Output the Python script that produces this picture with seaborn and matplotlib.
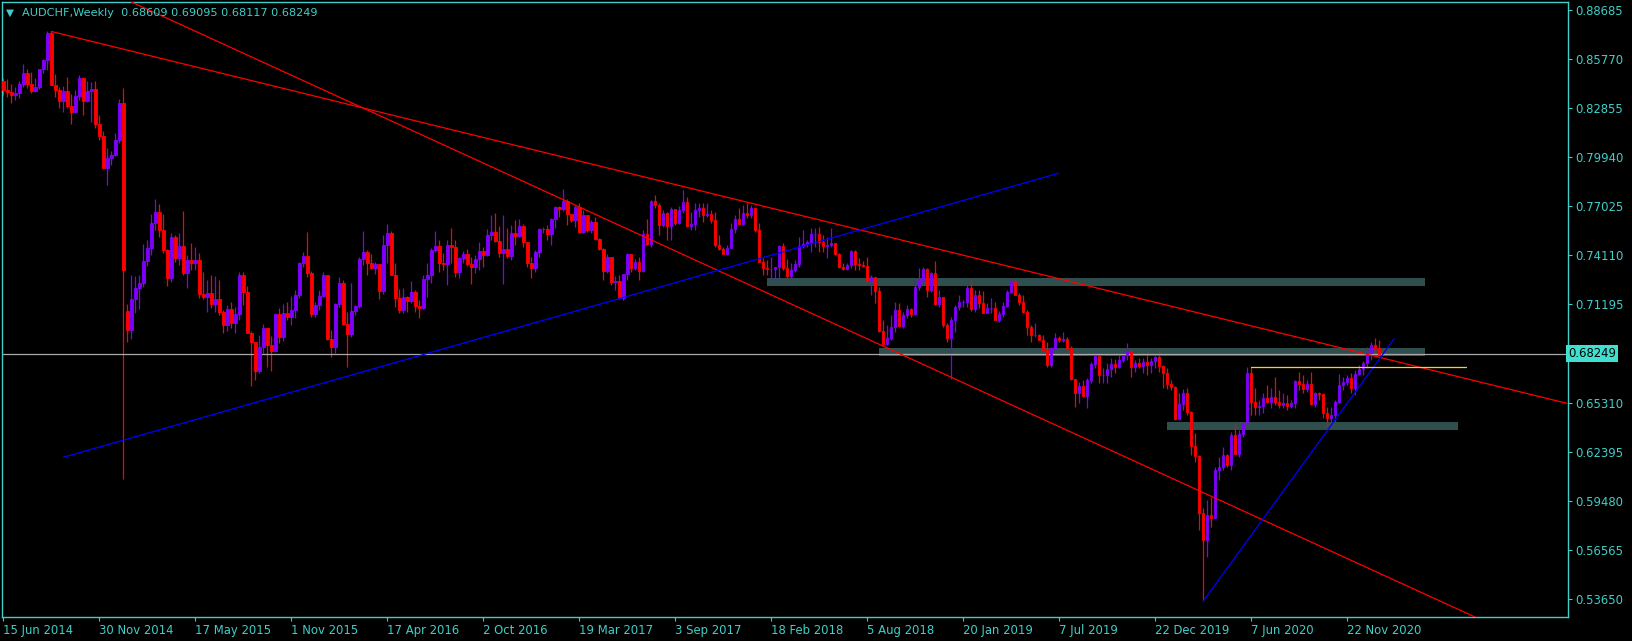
import matplotlib
matplotlib.use("Agg")
import matplotlib.pyplot as plt
import matplotlib.transforms as mtransforms
from matplotlib.patches import Rectangle
import numpy as np
import seaborn as sns

sns.set_style("dark", {"axes.facecolor": "black", "figure.facecolor": "black"})
plt.rcParams['font.family'] = ['DejaVu Sans']

# AUDCHF weekly candles, first week = 15 Jun 2014
symbol = "AUDCHF,Weekly"
first_open = 0.8449
gap_opens = {31: 0.7081}   # weekly gap after the SNB week

closes = [
    0.8396, 0.8384, 0.8366, 0.8378, 0.8431, 0.8497, 0.8431, 0.8390, 0.8413, 0.8515,
    0.8574, 0.8729, 0.8425, 0.8396, 0.8330, 0.8390, 0.8300, 0.8265, 0.8360, 0.8467,
    0.8330, 0.8390, 0.8401, 0.8193, 0.8122, 0.7931, 0.7991, 0.8009, 0.8098, 0.8318,
    0.7325, 0.6968, 0.7152, 0.7217, 0.7247, 0.7378, 0.7455, 0.7604, 0.7670, 0.7563,
    0.7444, 0.7277, 0.7521, 0.7396, 0.7467, 0.7307, 0.7384, 0.7366, 0.7384, 0.7182,
    0.7164, 0.7188, 0.7122, 0.7152, 0.7075, 0.6997, 0.7092, 0.7009, 0.7063, 0.7295,
    0.7194, 0.6950, 0.6896, 0.6724, 0.6866, 0.6979, 0.6878, 0.6843, 0.7063, 0.6926,
    0.7069, 0.7045, 0.7087, 0.7176, 0.7366, 0.7408, 0.7307, 0.7063, 0.7116, 0.7170,
    0.7295, 0.6914, 0.6866, 0.7122, 0.7247, 0.7003, 0.6944, 0.7081, 0.7110, 0.7390,
    0.7432, 0.7366, 0.7336, 0.7360, 0.7200, 0.7473, 0.7545, 0.7295, 0.7158, 0.7087,
    0.7164, 0.7140, 0.7194, 0.7110, 0.7098, 0.7271, 0.7295, 0.7444, 0.7467, 0.7366,
    0.7360, 0.7473, 0.7461, 0.7313, 0.7396, 0.7420, 0.7360, 0.7342, 0.7390, 0.7438,
    0.7414, 0.7533, 0.7551, 0.7497, 0.7426, 0.7449, 0.7408, 0.7545, 0.7527, 0.7586,
    0.7491, 0.7366, 0.7336, 0.7432, 0.7568, 0.7568, 0.7539, 0.7628, 0.7699, 0.7687,
    0.7735, 0.7658, 0.7622, 0.7699, 0.7551, 0.7652, 0.7563, 0.7610, 0.7509, 0.7449,
    0.7319, 0.7402, 0.7253, 0.7259, 0.7158, 0.7301, 0.7420, 0.7336, 0.7372, 0.7319,
    0.7539, 0.7479, 0.7735, 0.7711, 0.7592, 0.7664, 0.7586, 0.7687, 0.7604, 0.7682,
    0.7729, 0.7586, 0.7598, 0.7682, 0.7693, 0.7652, 0.7658, 0.7622, 0.7473, 0.7449,
    0.7420, 0.7455, 0.7568, 0.7628, 0.7598, 0.7664, 0.7652, 0.7693, 0.7563, 0.7372,
    0.7336, 0.7330, 0.7330, 0.7342, 0.7467, 0.7336, 0.7289, 0.7325, 0.7360, 0.7467,
    0.7479, 0.7491, 0.7539, 0.7539, 0.7491, 0.7467, 0.7473, 0.7485, 0.7420, 0.7342,
    0.7330, 0.7354, 0.7438, 0.7360, 0.7354, 0.7348, 0.7259, 0.7283, 0.7200, 0.6962,
    0.6884, 0.6920, 0.6985, 0.7087, 0.6991, 0.7057, 0.7092, 0.7063, 0.7223, 0.7265,
    0.7330, 0.7206, 0.7307, 0.7122, 0.7164, 0.6997, 0.6920, 0.7027, 0.7104, 0.7134,
    0.7134, 0.7217, 0.7092, 0.7176, 0.7128, 0.7069, 0.7098, 0.7098, 0.7027, 0.7063,
    0.7110, 0.7194, 0.7253, 0.7176, 0.7134, 0.7075, 0.6985, 0.6938, 0.6938, 0.6908,
    0.6849, 0.6759, 0.6860, 0.6920, 0.6908, 0.6914, 0.6860, 0.6676, 0.6593, 0.6634,
    0.6575, 0.6670, 0.6765, 0.6813, 0.6700, 0.6700, 0.6735, 0.6765, 0.6747, 0.6789,
    0.6819, 0.6843, 0.6747, 0.6771, 0.6753, 0.6777, 0.6759, 0.6783, 0.6807, 0.6753,
    0.6712, 0.6646, 0.6628, 0.6438, 0.6527, 0.6593, 0.6480, 0.6277, 0.6218, 0.5879,
    0.5718, 0.5867, 0.5849, 0.6135, 0.6152, 0.6224, 0.6164, 0.6343, 0.6230, 0.6349,
    0.6414, 0.6712, 0.6539, 0.6509, 0.6515, 0.6563, 0.6539, 0.6569, 0.6539, 0.6521,
    0.6533, 0.6515, 0.6533, 0.6664, 0.6646, 0.6616, 0.6646, 0.6527, 0.6593, 0.6587,
    0.6474, 0.6444, 0.6462, 0.6539, 0.6640, 0.6658, 0.6682, 0.6622, 0.6706, 0.6735,
    0.6771, 0.6831, 0.6878, 0.6861, 0.68249,
]
highs = [
    0.8467, 0.8461, 0.8431, 0.8413, 0.8449, 0.8550, 0.8515, 0.8503, 0.8467, 0.8520,
    0.8580, 0.8741, 0.8741, 0.8491, 0.8413, 0.8419, 0.8473, 0.8372, 0.8396, 0.8485,
    0.8473, 0.8449, 0.8443, 0.8449, 0.8247, 0.8152, 0.8050, 0.8033, 0.8140, 0.8342,
    0.8407, 0.7122, 0.7295, 0.7289, 0.7295, 0.7479, 0.7503, 0.7658, 0.7747, 0.7717,
    0.7658, 0.7449, 0.7545, 0.7533, 0.7545, 0.7676, 0.7414, 0.7485, 0.7461, 0.7426,
    0.7313, 0.7265, 0.7295, 0.7289, 0.7265, 0.7087, 0.7116, 0.7134, 0.7104, 0.7313,
    0.7313, 0.7229, 0.6962, 0.6896, 0.6938, 0.7003, 0.6979, 0.6932, 0.7069, 0.7098,
    0.7122, 0.7134, 0.7170, 0.7206, 0.7372, 0.7432, 0.7551, 0.7319, 0.7134, 0.7206,
    0.7313, 0.7295, 0.6968, 0.7128, 0.7283, 0.7265, 0.7075, 0.7247, 0.7116, 0.7402,
    0.7557, 0.7444, 0.7420, 0.7372, 0.7354, 0.7533, 0.7598, 0.7557, 0.7366, 0.7212,
    0.7217, 0.7170, 0.7259, 0.7206, 0.7146, 0.7295, 0.7366, 0.7455, 0.7557, 0.7503,
    0.7426, 0.7503, 0.7574, 0.7503, 0.7402, 0.7438, 0.7449, 0.7402, 0.7414, 0.7491,
    0.7461, 0.7568, 0.7652, 0.7664, 0.7586, 0.7652, 0.7574, 0.7592, 0.7622, 0.7628,
    0.7598, 0.7485, 0.7402, 0.7444, 0.7574, 0.7580, 0.7592, 0.7634, 0.7705, 0.7705,
    0.7806, 0.7747, 0.7652, 0.7711, 0.7723, 0.7682, 0.7652, 0.7622, 0.7640, 0.7515,
    0.7455, 0.7420, 0.7402, 0.7289, 0.7295, 0.7301, 0.7426, 0.7420, 0.7390, 0.7402,
    0.7563, 0.7628, 0.7741, 0.7771, 0.7723, 0.7682, 0.7670, 0.7699, 0.7652, 0.7705,
    0.7801, 0.7759, 0.7670, 0.7723, 0.7723, 0.7723, 0.7723, 0.7682, 0.7670, 0.7533,
    0.7461, 0.7473, 0.7604, 0.7652, 0.7693, 0.7711, 0.7723, 0.7711, 0.7699, 0.7604,
    0.7396, 0.7384, 0.7402, 0.7342, 0.7473, 0.7485, 0.7390, 0.7366, 0.7384, 0.7521,
    0.7563, 0.7503, 0.7574, 0.7574, 0.7580, 0.7533, 0.7521, 0.7574, 0.7485, 0.7426,
    0.7366, 0.7366, 0.7444, 0.7444, 0.7396, 0.7378, 0.7402, 0.7295, 0.7283, 0.7223,
    0.7027, 0.6997, 0.7057, 0.7134, 0.7128, 0.7075, 0.7116, 0.7098, 0.7265, 0.7336,
    0.7342, 0.7336, 0.7313, 0.7378, 0.7206, 0.7164, 0.7009, 0.7045, 0.7116, 0.7176,
    0.7146, 0.7235, 0.7265, 0.7206, 0.7206, 0.7200, 0.7128, 0.7158, 0.7134, 0.7081,
    0.7134, 0.7206, 0.7271, 0.7265, 0.7188, 0.7176, 0.7087, 0.6997, 0.7009, 0.6944,
    0.6938, 0.6896, 0.6866, 0.6950, 0.6932, 0.6956, 0.6926, 0.6872, 0.6676, 0.6658,
    0.6670, 0.6682, 0.6777, 0.6849, 0.6831, 0.6741, 0.6771, 0.6801, 0.6795, 0.6819,
    0.6843, 0.6890, 0.6849, 0.6789, 0.6801, 0.6801, 0.6843, 0.6801, 0.6831, 0.6849,
    0.6759, 0.6741, 0.6670, 0.6634, 0.6593, 0.6616, 0.6622, 0.6486, 0.6355, 0.6224,
    0.5908, 0.5956, 0.5974, 0.6152, 0.6212, 0.6271, 0.6230, 0.6361, 0.6408, 0.6373,
    0.6420, 0.6747, 0.6747, 0.6622, 0.6551, 0.6593, 0.6640, 0.6622, 0.6688, 0.6611,
    0.6593, 0.6581, 0.6551, 0.6670, 0.6718, 0.6700, 0.6670, 0.6718, 0.6599, 0.6599,
    0.6593, 0.6509, 0.6509, 0.6551, 0.6706, 0.6688, 0.6700, 0.6712, 0.6730, 0.6759,
    0.6783, 0.6866, 0.6896, 0.6920, 0.69095,
]
lows = [
    0.8366, 0.8354, 0.8318, 0.8336, 0.8348, 0.8413, 0.8407, 0.8378, 0.8384, 0.8401,
    0.8497, 0.8509, 0.8425, 0.8354, 0.8288, 0.8265, 0.8288, 0.8193, 0.8259, 0.8336,
    0.8247, 0.8324, 0.8205, 0.8169, 0.8098, 0.7931, 0.7830, 0.7949, 0.8003, 0.8080,
    0.6081, 0.6896, 0.6914, 0.7069, 0.7092, 0.7223, 0.7348, 0.7414, 0.7563, 0.7521,
    0.7426, 0.7229, 0.7253, 0.7372, 0.7354, 0.7295, 0.7217, 0.7325, 0.7325, 0.7158,
    0.7152, 0.7075, 0.7098, 0.7075, 0.7057, 0.6950, 0.6962, 0.6979, 0.6950, 0.7027,
    0.7116, 0.6950, 0.6634, 0.6670, 0.6712, 0.6831, 0.6747, 0.6724, 0.6837, 0.6890,
    0.6902, 0.7027, 0.6997, 0.7039, 0.7158, 0.7342, 0.7283, 0.7045, 0.7045, 0.7087,
    0.7164, 0.6908, 0.6807, 0.6831, 0.7104, 0.6997, 0.6747, 0.6926, 0.7057, 0.7098,
    0.7354, 0.7295, 0.7330, 0.7301, 0.7152, 0.7182, 0.7366, 0.7295, 0.7104, 0.7069,
    0.7069, 0.7075, 0.7128, 0.7075, 0.7039, 0.7092, 0.7164, 0.7247, 0.7432, 0.7313,
    0.7325, 0.7235, 0.7366, 0.7283, 0.7277, 0.7366, 0.7348, 0.7241, 0.7307, 0.7325,
    0.7342, 0.7408, 0.7503, 0.7491, 0.7402, 0.7241, 0.7396, 0.7384, 0.7473, 0.7521,
    0.7461, 0.7342, 0.7277, 0.7313, 0.7402, 0.7545, 0.7503, 0.7473, 0.7574, 0.7640,
    0.7676, 0.7592, 0.7610, 0.7580, 0.7545, 0.7545, 0.7551, 0.7545, 0.7503, 0.7444,
    0.7265, 0.7307, 0.7235, 0.7206, 0.7152, 0.7146, 0.7265, 0.7313, 0.7325, 0.7265,
    0.7313, 0.7473, 0.7461, 0.7693, 0.7533, 0.7580, 0.7503, 0.7503, 0.7592, 0.7598,
    0.7664, 0.7580, 0.7563, 0.7563, 0.7640, 0.7610, 0.7640, 0.7604, 0.7461, 0.7444,
    0.7420, 0.7414, 0.7455, 0.7545, 0.7592, 0.7592, 0.7634, 0.7634, 0.7551, 0.7372,
    0.7295, 0.7295, 0.7265, 0.7265, 0.7265, 0.7325, 0.7277, 0.7277, 0.7313, 0.7342,
    0.7455, 0.7461, 0.7432, 0.7461, 0.7432, 0.7432, 0.7396, 0.7461, 0.7414, 0.7336,
    0.7325, 0.7325, 0.7336, 0.7325, 0.7325, 0.7342, 0.7253, 0.7176, 0.7128, 0.6956,
    0.6878, 0.6878, 0.6908, 0.6956, 0.6985, 0.6979, 0.7039, 0.7045, 0.7057, 0.7206,
    0.7253, 0.7164, 0.7194, 0.7116, 0.7104, 0.6985, 0.6896, 0.6676, 0.6956, 0.7087,
    0.7104, 0.7104, 0.7081, 0.7075, 0.7098, 0.7069, 0.7069, 0.7069, 0.7027, 0.7015,
    0.7045, 0.7104, 0.7188, 0.7176, 0.7116, 0.7069, 0.6938, 0.6896, 0.6926, 0.6908,
    0.6849, 0.6747, 0.6747, 0.6855, 0.6896, 0.6896, 0.6849, 0.6670, 0.6509, 0.6533,
    0.6569, 0.6503, 0.6652, 0.6741, 0.6652, 0.6652, 0.6652, 0.6688, 0.6712, 0.6741,
    0.6777, 0.6789, 0.6688, 0.6718, 0.6741, 0.6712, 0.6700, 0.6712, 0.6741, 0.6718,
    0.6622, 0.6616, 0.6611, 0.6432, 0.6432, 0.6492, 0.6462, 0.6224, 0.6182, 0.5778,
    0.5355, 0.5617, 0.5795, 0.5849, 0.6075, 0.6135, 0.6152, 0.6135, 0.6230, 0.6212,
    0.6331, 0.6396, 0.6462, 0.6462, 0.6462, 0.6474, 0.6533, 0.6503, 0.6521, 0.6503,
    0.6503, 0.6492, 0.6503, 0.6503, 0.6611, 0.6593, 0.6599, 0.6521, 0.6509, 0.6551,
    0.6444, 0.6390, 0.6414, 0.6420, 0.6533, 0.6611, 0.6640, 0.6593, 0.6581, 0.6700,
    0.6700, 0.6741, 0.6789, 0.6818, 0.68117,
]

date_labels = ["15 Jun 2014", "30 Nov 2014", "17 May 2015", "1 Nov 2015", "17 Apr 2016",
               "2 Oct 2016", "19 Mar 2017", "3 Sep 2017", "18 Feb 2018", "5 Aug 2018",
               "20 Jan 2019", "7 Jul 2019", "22 Dec 2019", "7 Jun 2020", "22 Nov 2020"]
weeks_per_label = 24
price_ticks = [0.88685, 0.85770, 0.82855, 0.79940, 0.77025, 0.74110, 0.71195,
               0.65310, 0.62395, 0.59480, 0.56565, 0.53650]

# drawn objects: (week index, price)
red_trend = [(12, 0.8741), (390.9, 0.6531)]
red_ray = [(115.4, 0.8009), (346.7, 0.5492)]
blue_trends = [[(15.0, 0.6210), (263.9, 0.7899)], [(300, 0.5355), (347.7, 0.6914)]]
yellow_level = [(312, 0.6745), (365.7, 0.6745)]
zones = [(190.9, 355.4, 0.7229, 0.7277), (218.9, 355.4, 0.6813, 0.6860),
         (290.9, 363.7, 0.6372, 0.6420)]

fg = "#3FCFC8"
bull, bear = "#8000FF", "#FF0000"

opens = [first_open] + closes[:-1]
opens[-1] = 0.68609
for k, v in gap_opens.items():
    opens[k] = v
x = np.arange(len(closes))
o, c = np.array(opens), np.array(closes)
cols = np.where(c >= o, bull, bear)

W, H = 1633, 641
fig = plt.figure(figsize=(W / 100, H / 100), dpi=100, facecolor="black")
ax = fig.add_axes([2.5 / W, 24 / H, 1565.5 / W, 615 / H])
ax.set_facecolor("black")

for i0, i1, lo, hi in zones:
    ax.add_patch(Rectangle((i0, lo), i1 - i0, hi - lo, facecolor="#2F4F4F",
                           edgecolor="none", zorder=1))

ax.vlines(x, lows, highs, colors=cols, linewidth=0.9, zorder=2)
ax.bar(x, np.abs(c - o), bottom=np.minimum(o, c), width=0.62, color=cols,
       edgecolor=cols, linewidth=0.6, zorder=3)

ax.axhline(closes[-1], color="#A8A8A8", linewidth=0.9, zorder=2.5)

sns.lineplot(x=[p[0] for p in red_trend], y=[p[1] for p in red_trend], ax=ax,
             color="red", linewidth=0.9, zorder=4)
ax.axline(red_ray[0], red_ray[1], color="red", linewidth=0.9, zorder=4)
for seg in blue_trends:
    sns.lineplot(x=[p[0] for p in seg], y=[p[1] for p in seg], ax=ax,
                 color="#0000FF", linewidth=0.9, zorder=4)
sns.lineplot(x=[p[0] for p in yellow_level], y=[p[1] for p in yellow_level], ax=ax,
             color="#FFD700", linewidth=0.9, zorder=4)

ax.set_xlim(-0.2, 391.2)
ax.set_ylim(0.52609, 0.89161)
ax.grid(False)
for s in ax.spines.values():
    s.set_color(fg)
    s.set_linewidth(1)
    s.set_visible(True)

ax.set_xticks([k * weeks_per_label for k in range(len(date_labels))])
ax.set_xticklabels(date_labels, ha="left")
ax.yaxis.tick_right()
ax.set_yticks(price_ticks)
ax.set_yticklabels([f"{v:.5f}" for v in price_ticks])
ax.tick_params(axis="both", colors=fg, labelcolor=fg, length=3, width=0.8,
               direction="out", labelsize=8.4, pad=2)
ax.tick_params(axis="x", bottom=True, pad=2)
ax.tick_params(axis="y", right=True, left=False, pad=2.5)
ax.set_xlabel("")
ax.set_ylabel("")

trans = mtransforms.blended_transform_factory(ax.transAxes, ax.transData)
ax.text(1.0, closes[-1], f"{closes[-1]:.5f}", transform=trans, ha="left", va="center",
        fontsize=8.4, color="black", zorder=10, clip_on=False,
        bbox=dict(boxstyle="square,pad=0.18", facecolor="#40E0D0", edgecolor="none"))

fig.text(6 / W, 1 - 12.5 / H, "\u25BC", color=fg, fontsize=7.5, va="center", ha="left")
fig.text(22 / W, 1 - 12.5 / H,
         f"{symbol}  {opens[-1]:.5f} {highs[-1]:.5f} {lows[-1]:.5f} {closes[-1]:.5f}",
         color=fg, fontsize=8.1, va="center", ha="left")

fig.savefig("out.png", dpi=100, facecolor="black")
